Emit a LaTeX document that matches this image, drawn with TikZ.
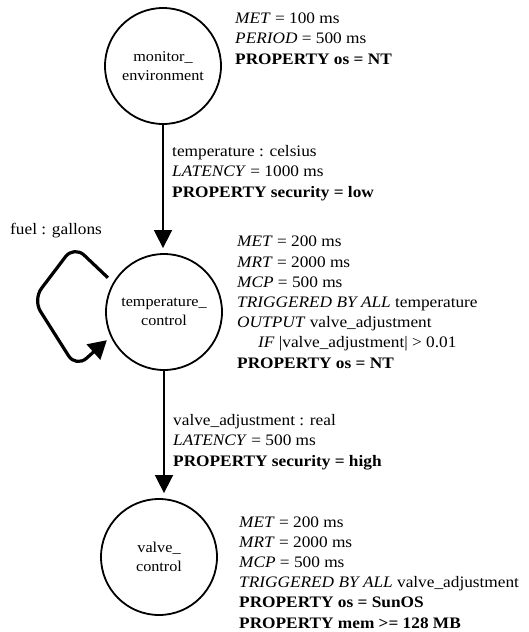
\documentclass[tikz,border=0pt]{standalone}
\usepackage{fontspec}
\setmainfont{Liberation Serif}[FakeStretch=1.08]
\usetikzlibrary{arrows.meta,positioning}

\begin{document}
\begin{tikzpicture}[x=1pt,y=-1pt,
  proc/.style={draw,circle,line width=1.8pt,minimum size=116pt,inner sep=0pt,
    align=center,font=\fontsize{15}{18.5}\selectfont},
  info/.style={anchor=base west,inner sep=0pt,align=left,
    font=\fontsize{16}{20.2}\selectfont},
  flow/.style={line width=1.6pt,-{Triangle[width=18pt,length=18pt]},shorten >=5pt},
  selfloop/.style={line width=3.2pt,rounded corners=14pt,
    -{Triangle[width=20pt,length=18pt]},shorten <=7pt,shorten >=5pt}]
\useasboundingbox (0,0) rectangle (528,632);

% processes
\node[proc] (monitor) at (163,66) {monitor\_\\environment};
\node[proc] (tempctl) at (164,312) {temperature\_\\control};
\node[proc] (valvectl) at (159,557) {valve\_\\control};

% attributes of the processes (base = last line)
\node[info] (monitorinfo) at (235,64) {
\textit{MET} = 100 ms\\
\textit{PERIOD} = 500 ms\\
\textbf{PROPERTY os = NT}
};
\node[info] (tempctlinfo) at (237,368) {
\textit{MET} = 200 ms\\
\textit{MRT} = 2000 ms\\
\textit{MCP} = 500 ms\\
\textit{TRIGGERED BY ALL} temperature\\
\textit{OUTPUT} valve\_adjustment\\
\hspace*{21pt}\textit{IF} |valve\_adjustment| > 0.01\\
\textbf{PROPERTY os = NT}
};
\node[info] (valvectlinfo) at (239,628) {
\textit{MET} = 200 ms\\
\textit{MRT} = 2000 ms\\
\textit{MCP} = 500 ms\\
\textit{TRIGGERED BY ALL} valve\_adjustment\\
\textbf{PROPERTY os = SunOS}\\
\textbf{PROPERTY mem >= 128 MB}
};

% streams
\draw[flow] (monitor.south) -- (monitor.south |- tempctl.north);
\node[info] (templabel) at (172,197) {
temperature : celsius\\
\textit{LATENCY} = 1000 ms\\
\textbf{PROPERTY security = low}
};
\draw[flow] (tempctl.south) -- (tempctl.south |- valvectl.north);
\node[info] (valvelabel) at (173,466) {
valve\_adjustment : real\\
\textit{LATENCY} = 500 ms\\
\textbf{PROPERTY security = high}
};

% fuel loop
\draw[selfloop] (tempctl.150) -- ++(-39,-37) -- ++(-41,54) -- ++(43,68) -- (tempctl.205);
\node[info] (fuellabel) at (10,234) {fuel : gallons};
\end{tikzpicture}
\end{document}
